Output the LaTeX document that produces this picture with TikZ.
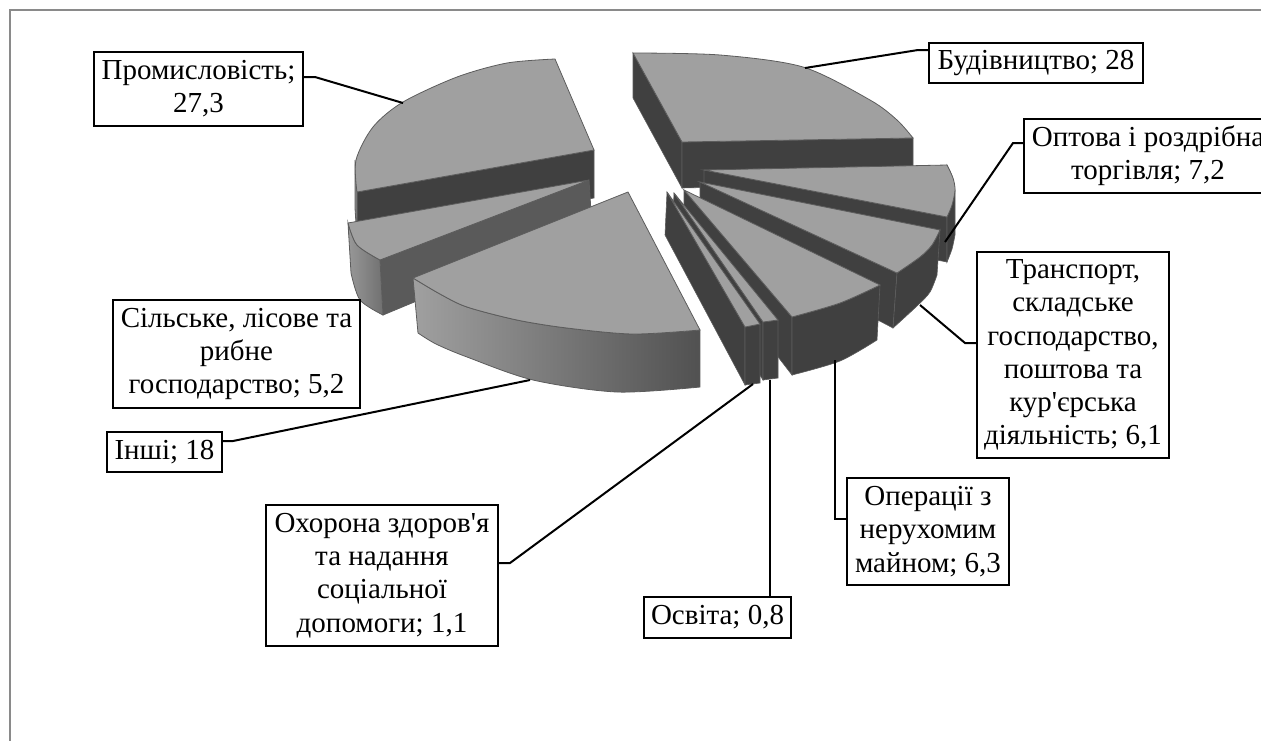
\documentclass[tikz,border=0pt]{standalone}
\usepackage{fontspec}
\setmainfont{Liberation Serif}

\definecolor{pietop}{HTML}{A0A0A0}
\definecolor{piedark}{HTML}{404040}
\definecolor{pieside}{HTML}{5A5A5A}
\definecolor{pieedge}{HTML}{5C5C5C}
\definecolor{chartframe}{HTML}{8A8A8A}

\tikzset{
  slicetop/.style={fill=pietop, draw=pieedge, line width=0.4pt},
  slicedark/.style={fill=piedark, draw=pieedge, line width=0.3pt},
  lbl/.style={draw, line width=1pt, align=center, inner sep=0pt,
    font=\fontsize{14.5}{16.6}\selectfont},
  leader/.style={line width=1pt}
}

\begin{document}
\begin{tikzpicture}[x=0.5pt,y=-0.5pt]
\useasboundingbox (0,0) rectangle (1261,740);
\draw[chartframe, line width=1pt] (10,10) rectangle (1300,800);

% Промисловість
\path[slicedark] (357,192) -- (594,150) -- (594,198) -- (357,240) -- cycle;
\path[fill=pietop!85!black, draw=pieedge] (355,160) -- (357,192) -- (357,240) -- (355,208) -- cycle;
\path[slicetop] (594,150) -- plot[smooth] coordinates {(555,59) (507,63) (457,77) (403,102) (373,127) (356,160) (357,192)} -- cycle;

% Сільське
\path[fill=pieside, draw=pieedge] (380,260) -- (589,180) -- (592,228) -- (383,315) -- cycle;
\path[left color=pietop!95!black, right color=pietop!70!black, draw=pieedge] plot[smooth] coordinates {(348,223) (357,245) (380,260)} -- plot[smooth] coordinates {(383,315) (360,300) (351,273)} -- cycle;
\path[slicetop] (589,180) -- plot[smooth] coordinates {(348,223) (357,245) (380,260)} -- cycle;

% Інші
\path[left color=pietop, right color=pieside!90!black, draw=pieedge] plot[smooth] coordinates {(413,278) (440,294) (467,307) (517,320) (567,328) (633,334) (700,330)} -- plot[smooth] coordinates {(700,387) (617,392) (533,380) (467,357) (436,344) (418,333)} -- cycle;
\path[slicetop] (628,192) -- plot[smooth] coordinates {(413,278) (440,294) (467,307) (517,320) (567,328) (633,334) (700,330)} -- cycle;

% Будівництво
\path[slicedark] (633,53) -- (682,142) -- (682,188) -- (633,98) -- cycle;
\path[slicedark] (682,142) -- (913,138) -- (913,183) -- (682,188) -- cycle;
\path[slicetop] (682,142) -- plot[smooth] coordinates {(633,53) (720,55) (803,67) (870,100) (897,120) (913,138)} -- cycle;

% Оптова
\path[slicedark] (704,170) -- (947,217) -- (947,262) -- (704,215) -- cycle;
\path[slicedark] plot[smooth] coordinates {(947,165) (952,176) (955,190)} -- plot[smooth] coordinates {(955,235) (952,249) (947,262)} -- cycle;
\path[slicetop] (704,170) -- plot[smooth] coordinates {(947,165) (953,178) (955,190) (952,205) (947,217)} -- cycle;

% Транспорт
\path[slicedark] (700,182) -- (897,273) -- (893,328) -- (700,227) -- cycle;
\path[slicedark] plot[smooth] coordinates {(940,230) (932,245) (920,257) (897,273)} -- plot[smooth] coordinates {(893,328) (918,305) (930,292) (937,275)} -- cycle;
\path[slicetop] (700,182) -- plot[smooth] coordinates {(940,230) (932,245) (920,257) (897,273)} -- cycle;

% Операції
\path[slicedark] (684,190) -- (792,317) -- (792,375) -- (684,235) -- cycle;
\path[slicedark] plot[smooth] coordinates {(880,285) (840,303) (792,317)} -- plot[smooth] coordinates {(792,375) (840,361) (877,340)} -- cycle;
\path[slicetop] (684,190) -- plot[smooth] coordinates {(880,285) (840,303) (792,317)} -- cycle;

% Освіта
\path[slicedark] (674,193) -- (763,322) -- (763,380) -- (672,237) -- cycle;
\path[slicedark] (763,322) -- (778,320) -- (778,378) -- (763,380) -- cycle;
\path[slicetop] (674,193) -- (778,320) -- (763,322) -- cycle;

% Охорона
\path[slicedark] (667,192) -- (745,327) -- (745,385) -- (665,235) -- cycle;
\path[slicedark] (745,327) -- (760,324) -- (760,383) -- (745,385) -- cycle;
\path[slicetop] (667,192) -- (760,324) -- (745,327) -- cycle;

% labels
\node[lbl, minimum width=104.5pt, minimum height=37pt] (lP) at (198.5,89) {Промисловість;\\27,3};
\node[lbl, minimum width=123.5pt, minimum height=54pt] (lS) at (236.5,354) {Сільське, лісове та\\рибне\\господарство; 5,2};
\node[lbl, minimum width=57.5pt, minimum height=20pt] (lI) at (164.5,452) {Інші; 18};
\node[lbl, minimum width=116pt, minimum height=70.5pt] (lOx) at (382,575.5) {Охорона здоров\textquotesingle я\\та надання\\соціальної\\допомоги; 1,1};
\node[lbl, minimum width=73.5pt, minimum height=20.5pt] (lOs) at (717.5,617.5) {Освіта; 0,8};
\node[lbl, minimum width=81pt, minimum height=53.5pt] (lOp) at (928,531.5) {Операції з\\нерухомим\\майном; 6,3};
\node[lbl, minimum width=96pt, minimum height=103pt] (lT) at (1073,355) {Транспорт,\\складське\\господарство,\\поштова та\\кур\textquotesingle єрська\\діяльність; 6,1};
\node[lbl, minimum width=124pt, minimum height=37pt] (lOpt) at (1148,156) {Оптова і роздрібна\\торгівля; 7,2};
\node[lbl, minimum width=107pt, minimum height=20pt] (lB) at (1036,63) {Будівництво; 28};

% leader lines
\coordinate (pP) at (403,103);   \coordinate (kP) at (315,77);
\coordinate (pB) at (805,68);    \coordinate (kB) at (918,50);
\coordinate (pOpt) at (945,242); \coordinate (kOpt) at (1013,143);
\coordinate (pT) at (920,305);   \coordinate (kT) at (965,343);
\coordinate (pOp) at (835,360);  \coordinate (kOp) at (835,519);
\coordinate (pOs) at (770,380);
\coordinate (pOx) at (753,384);  \coordinate (kOx) at (510,563);
\coordinate (pI) at (530,380);   \coordinate (kI) at (233,441);

\draw[leader] (pP) -- (kP) -- (kP -| lP.east);
\draw[leader] (pB) -- (kB) -- (kB -| lB.west);
\draw[leader] (pOpt) -- (kOpt) -- (kOpt -| lOpt.west);
\draw[leader] (pT) -- (kT) -- (kT -| lT.west);
\draw[leader] (pOp) -- (kOp) -- (kOp -| lOp.west);
\draw[leader] (pOs) -- (pOs |- lOs.north);
\draw[leader] (pOx) -- (kOx) -- (kOx -| lOx.east);
\draw[leader] (pI) -- (kI) -- (kI -| lI.east);
\end{tikzpicture}
\end{document}
